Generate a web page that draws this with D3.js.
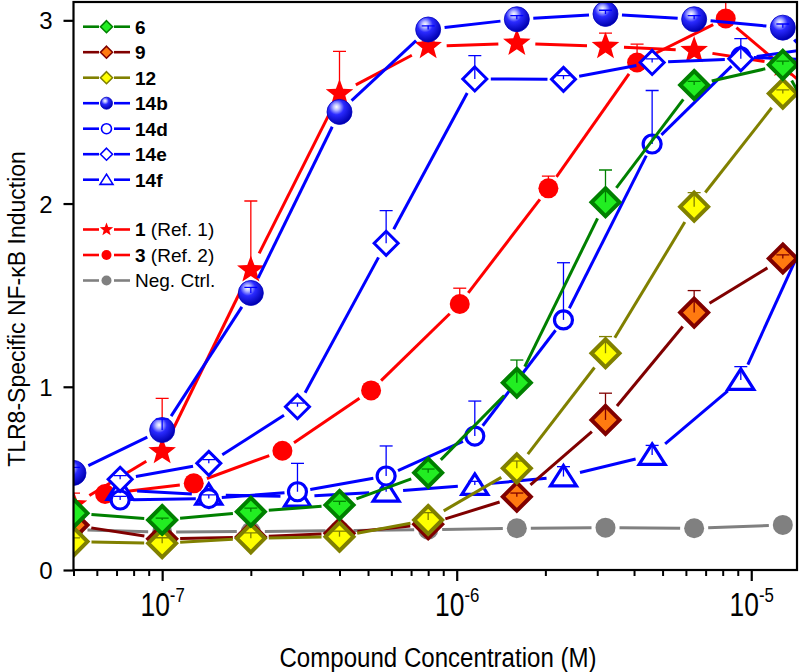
<!DOCTYPE html>
<html><head><meta charset="utf-8">
<script src="https://cdn.jsdelivr.net/npm/d3@7"></script>
<style>body{margin:0;background:#fff}</style>
</head><body>
<svg id="c" width="800" height="672" xmlns="http://www.w3.org/2000/svg"></svg>
<script>
// ---- data ----
const conc2  = [5e-8, 1e-7, 2e-7, 4e-7, 8e-7, 1.6e-6, 3.2e-6, 6.4e-6, 1.28e-5, 2.56e-5];
const conc3  = [6.4e-8, 1.28e-7, 2.56e-7, 5.12e-7, 1.024e-6, 2.048e-6, 4.096e-6, 8.192e-6, 1.6384e-5];
const conc14 = [7.2e-8, 1.44e-7, 2.88e-7, 5.76e-7, 1.152e-6, 2.304e-6, 4.608e-6, 9.216e-6, 1.8432e-5];

const v6   = [0.31, 0.273, 0.318, 0.355, 0.531, 1.022, 2.007, 2.647, 2.757, 1.9];
const e6   = [0, 0.01, 0.02, 0.02, 0.02, 0.124, 0.176, 0.02, 0.02, 0];
const v9   = [0.245, 0.17, 0.18, 0.20, 0.25, 0.40, 0.819, 1.405, 1.70, 1.33];
const e9   = [0, 0, 0, 0, 0, 0.02, 0.146, 0.12, 0.02, 0];
const v12  = [0.155, 0.146, 0.173, 0.182, 0.273, 0.555, 1.183, 1.983, 2.60, 2.25];
const e12  = [0.02, 0.03, 0.03, 0.03, 0.04, 0.04, 0.091, 0.077, 0.02, 0];
const v14b = [0.53, 0.764, 1.512, 2.50, 2.95, 3.006, 3.035, 3.006, 2.96, 2.45];
const e14b = [0.03, 0.06, 0.03, 0.0, 0.02, 0.02, 0.02, 0.02, 0.02, 0];
const v14d = [0.382, 0.39, 0.427, 0.513, 0.731, 1.365, 2.325, 2.80, 2.78];
const e14d = [0.02, 0.02, 0.155, 0.164, 0.191, 0.312, 0.292, 0.03, 0];
const v14e = [0.495, 0.582, 0.891, 1.783, 2.68, 2.678, 2.77, 2.79, 2.86];
const e14e = [0.02, 0.02, 0.02, 0.178, 0.127, 0.02, 0.02, 0.11, 0];
const v14f = [0.437, 0.41, 0.40, 0.427, 0.464, 0.51, 0.628, 1.037, 2.1];
const e14f = [0.02, 0.02, 0.02, 0.02, 0.02, 0.054, 0.052, 0.073, 0];
const v1   = [0.355, 0.646, 1.638, 2.60, 2.857, 2.875, 2.857, 2.835, 2.76];
const e1   = [0.065, 0.291, 0.376, 0.23, 0.03, 0.02, 0.073, 0.02, 0.02];
const v3   = [0.415, 0.473, 0.651, 0.98, 1.452, 2.083, 2.77, 3.01, 2.6];
const e3   = [0.01, 0.01, 0.01, 0.01, 0.086, 0.067, 0.10, 0.12, 0];
const vNeg = [0.22, 0.207, 0.21, 0.215, 0.22, 0.228, 0.231, 0.228, 0.246, 0.25];
const eNeg = [0.01, 0.01, 0.01, 0.01, 0.01, 0.01, 0.01, 0.01, 0.01, 0];

const yTicks = [0, 1, 2, 3];
const xMajor = [1e-7, 1e-6, 1e-5];
const xMajorExp = ["-7", "-6", "-5"];
const xTitle = "Compound Concentration (M)";
const yTitle = "TLR8-Specific NF-\u03BAB Induction";

const series = [
  {key:"neg", bold:"", rest:"Neg. Ctrl.", conc:conc2, v:vNeg, e:eNeg, line:"#808080", fill:"#808080", stroke:"#808080", shape:"dot"},
  {key:"3",  bold:"3", rest:" (Ref. 2)", conc:conc3, v:v3, e:e3, line:"#ff0000", fill:"#ff0000", stroke:"#ff0000", shape:"dot"},
  {key:"1",  bold:"1", rest:" (Ref. 1)", conc:conc2, v:v1, e:e1, line:"#ff0000", fill:"#ff0000", stroke:"#ff0000", shape:"star"},
  {key:"14f", bold:"14f", rest:"", conc:conc14, v:v14f, e:e14f, line:"#0000ff", fill:"#fff", stroke:"#0000ff", shape:"tri"},
  {key:"14d", bold:"14d", rest:"", conc:conc14, v:v14d, e:e14d, line:"#0000ff", fill:"#fff", stroke:"#0000ff", shape:"ocirc"},
  {key:"14e", bold:"14e", rest:"", conc:conc14, v:v14e, e:e14e, line:"#0000ff", fill:"#fff", stroke:"#0000ff", shape:"odiam"},
  {key:"14b", bold:"14b", rest:"", conc:conc2, v:v14b, e:e14b, line:"#0000ff", fill:"url(#sph)", stroke:"#0000c0", shape:"sphere"},
  {key:"9",  bold:"9", rest:"", conc:conc2, v:v9, e:e9, line:"#800000", fill:"#ff7a10", stroke:"#800000", shape:"diam"},
  {key:"12", bold:"12", rest:"", conc:conc2, v:v12, e:e12, line:"#808000", fill:"#ffff00", stroke:"#808000", shape:"diam"},
  {key:"6",  bold:"6", rest:"", conc:conc2, v:v6, e:e6, line:"#008000", fill:"#22ee22", stroke:"#008000", shape:"diam"}
];
const legendOrder = ["6","9","12","14b","14d","14e","14f","1","3","neg"];

// ---- layout ----
const L = 73.5, R = 797, T = 2, B = 570;
const x = d3.scaleLog().domain([5e-8, 1.43e-5]).range([L, R]);
const y = d3.scaleLinear().domain([0, 3.1]).range([B, T]);

const svg = d3.select("#c");
const defs = svg.append("defs");
const g = defs.append("radialGradient").attr("id","sph").attr("cx","38%").attr("cy","32%").attr("r","68%").attr("fx","38%").attr("fy","30%");
g.append("stop").attr("offset","0%").attr("stop-color","#ffffff");
g.append("stop").attr("offset","18%").attr("stop-color","#b8bcff");
g.append("stop").attr("offset","45%").attr("stop-color","#2a2aff");
g.append("stop").attr("offset","100%").attr("stop-color","#0000b0");
defs.append("clipPath").attr("id","clip").append("rect")
  .attr("x", L).attr("y", T).attr("width", R - L).attr("height", B - T);

const big = {diam:14, odiam:12, sphere:12.5, dot:10, ocirc:9, tri:13, star:14.5};
const sml = {diam:6, odiam:6, sphere:6, dot:5, ocirc:5, tri:6.5, star:7};

function starPath(r) {
  const pts = [];
  for (let i = 0; i < 10; i++) {
    const a = -Math.PI/2 + i*Math.PI/5;
    const rr = i % 2 === 0 ? r : r*0.42;
    pts.push([rr*Math.cos(a), rr*Math.sin(a)]);
  }
  return "M" + pts.map(p => p.join(",")).join("L") + "Z";
}

function drawMarker(sel, s, cx, cy, r, legend) {
  const gg = sel.append("g").attr("transform", `translate(${cx},${cy})`);
  switch (s.shape) {
    case "diam":
    case "odiam":
      gg.append("path").attr("d", `M0,${-r}L${r},0L0,${r}L${-r},0Z`)
        .attr("fill", s.fill).attr("stroke", s.stroke).attr("stroke-width", legend?1.6:(s.shape==="odiam"?3:4)).attr("stroke-linejoin","miter");
      break;
    case "sphere":
      gg.append("circle").attr("r", r).attr("fill", s.fill).attr("stroke", s.stroke).attr("stroke-width", 0.8);
      break;
    case "dot":
      gg.append("circle").attr("r", r).attr("fill", s.fill).attr("stroke", "none");
      break;
    case "ocirc":
      gg.append("circle").attr("r", r).attr("fill", "#fff").attr("stroke", s.stroke).attr("stroke-width", legend?1.6:3.2);
      break;
    case "tri": {
      const h = r;
      gg.append("path").attr("d", `M0,${-h*0.85}L${h},${h*0.72}L${-h},${h*0.72}Z`)
        .attr("fill", "#fff").attr("stroke", s.stroke).attr("stroke-width", legend?1.6:3.2).attr("stroke-linejoin","miter");
      break;
    }
    case "star":
      gg.append("path").attr("d", starPath(r)).attr("fill", s.fill).attr("stroke", "none");
      break;
  }
}

// ---- plot area ----
const plot = svg.append("g").attr("clip-path", "url(#clip)");

series.forEach(s => {
  const pts = s.conc.map((c, i) => [x(c), y(s.v[i]), s.e[i]]);
  const gap = big[s.shape] + 4;
  const sg = plot.append("g");
  for (let i = 0; i < pts.length - 1; i++) {
    const [x0, y0] = pts[i], [x1, y1] = pts[i+1];
    const dx = x1 - x0, dy = y1 - y0, len = Math.hypot(dx, dy);
    if (len <= 2*gap) continue;
    const ux = dx/len, uy = dy/len;
    sg.append("line")
      .attr("x1", x0 + ux*gap).attr("y1", y0 + uy*gap)
      .attr("x2", x1 - ux*gap).attr("y2", y1 - uy*gap)
      .attr("stroke", s.line).attr("stroke-width", 3);
  }
  pts.forEach(p => drawMarker(sg, s, p[0], p[1], big[s.shape], false));
  pts.forEach((p, i) => {
    if (!s.e[i]) return;
    const yt = y(s.v[i] + s.e[i]);
    sg.append("line").attr("x1", p[0]).attr("x2", p[0]).attr("y1", p[1]).attr("y2", yt)
      .attr("stroke", s.line).attr("stroke-width", 1.3);
    sg.append("line").attr("x1", p[0]-6.5).attr("x2", p[0]+6.5).attr("y1", yt).attr("y2", yt)
      .attr("stroke", s.line).attr("stroke-width", 1.3);
  });
});

// ---- axes ----
svg.append("rect").attr("x", L).attr("y", T).attr("width", R-L).attr("height", B-T)
  .attr("fill", "none").attr("stroke", "#000").attr("stroke-width", 2.2);

const sans = "'Liberation Sans', Arial, sans-serif";
const yAxis = d3.axisLeft(y).tickValues(yTicks).tickSize(10).tickFormat(d3.format("d"));
const ya = svg.append("g").attr("transform", `translate(${L},0)`).call(yAxis);
ya.select(".domain").remove();
ya.selectAll(".tick line").attr("stroke-width", 2.2);
ya.selectAll(".tick text").attr("font-family", sans).attr("font-size", 24).attr("fill", "#000")
  .attr("x", -21).attr("dy", "0.36em");

const minors = [];
for (let e = -8; e <= -5; e++) for (let m = 2; m <= 9; m++) {
  const v = m * Math.pow(10, e);
  if (v >= 5e-8 && v <= 1.43e-5) minors.push(v);
}
const xm = svg.append("g").attr("transform", `translate(0,${B})`)
  .call(d3.axisBottom(x).tickValues(minors).tickSize(6).tickFormat(""));
xm.select(".domain").remove();
xm.selectAll(".tick line").attr("stroke-width", 2);
const xa = svg.append("g").attr("transform", `translate(0,${B})`)
  .call(d3.axisBottom(x).tickValues(xMajor).tickSize(11).tickFormat(""));
xa.select(".domain").remove();
xa.selectAll(".tick line").attr("stroke-width", 2.2);
xa.selectAll(".tick").each(function(d, i) {
  const t = d3.select(this).append("text").attr("transform", "translate(0,46) scale(0.8,1)")
    .attr("fill", "#000").attr("font-family", sans).attr("font-size", 33).attr("text-anchor", "middle");
  t.append("tspan").text("10");
  t.append("tspan").attr("font-size", 21).attr("dy", -14).text(xMajorExp[i]);
});

svg.append("text").attr("transform", "translate(438,667) scale(0.86,1)").attr("text-anchor", "middle")
  .attr("font-family", sans).attr("font-size", 28).attr("fill", "#000").text(xTitle);
svg.append("text").attr("transform", "translate(25,309) rotate(-90)").attr("text-anchor", "middle")
  .attr("font-family", sans).attr("font-size", 23).attr("fill", "#000").text(yTitle);

// ---- legend ----
const legY = [26.7, 52.2, 77.7, 103.2, 128.7, 154.2, 179.7, 229.5, 255, 280.5];
const lg = svg.append("g");
legendOrder.forEach((k, i) => {
  const s = series.find(d => d.key === k);
  const cy = legY[i];
  lg.append("line").attr("x1", 83).attr("x2", 99).attr("y1", cy).attr("y2", cy).attr("stroke", s.line).attr("stroke-width", 2.6);
  lg.append("line").attr("x1", 114).attr("x2", 130).attr("y1", cy).attr("y2", cy).attr("stroke", s.line).attr("stroke-width", 2.6);
  drawMarker(lg, s, 106.5, cy, sml[s.shape], true);
  const t = lg.append("text").attr("x", 135).attr("y", cy).attr("dy", "0.36em")
    .attr("font-family", sans).attr("font-size", 19);
  if (s.bold) t.append("tspan").attr("font-weight", "bold").text(s.bold);
  if (s.rest) t.append("tspan").text(s.rest);
});
</script>
</body></html>
